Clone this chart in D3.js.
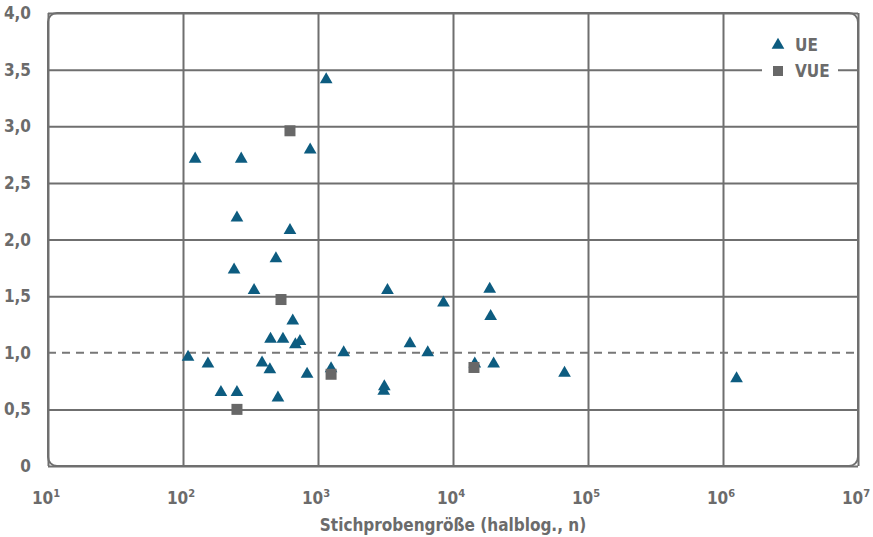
<!DOCTYPE html>
<html>
<head>
<meta charset="utf-8">
<script src="https://cdn.jsdelivr.net/npm/d3@7"></script>
<style>
  body { margin: 0; background: #fff; }
  text { font-family: "Liberation Sans Narrow", "DejaVu Sans Condensed", sans-serif; font-weight: bold; fill: #6b6b6b; }
</style>
</head>
<body>
<div id="chart"></div>
<script>
const margin = { top: 13, right: 15, bottom: 71, left: 48 };
const width = 873 - margin.left - margin.right;
const height = 537 - margin.top - margin.bottom;

// UE (triangles): sample size n and value
const ueN = [109, 123, 270, 1150, 875, 251, 620, 239, 488, 336, 650, 445, 550, 735, 680,
  153, 385, 440, 191, 251, 505, 830, 1550, 1250, 3100, 3070, 3270, 4800, 6500, 8500,
  14500, 18700, 19000, 20000, 67000, 1260000];
const ueVal = [0.97, 2.72, 2.72, 3.42, 2.80, 2.20, 2.09, 1.74, 1.84, 1.56, 1.29, 1.13, 1.13, 1.11, 1.08,
  0.91, 0.92, 0.86, 0.66, 0.66, 0.61, 0.82, 1.01, 0.87, 0.71, 0.67, 1.56, 1.09, 1.01, 1.45,
  0.91, 1.57, 1.33, 0.91, 0.83, 0.78];

// VUE (squares)
const vueN = [620, 532, 1250, 251, 14300];
const vueVal = [2.96, 1.47, 0.81, 0.50, 0.87];

const xTicks = [1, 2, 3, 4, 5, 6, 7];
const yTicks = [0, 0.5, 1, 1.5, 2, 2.5, 3, 3.5, 4];
const refLine = 1.0;

const seriesNames = ["UE", "VUE"];
const blue = "#0d5c80";
const grey = "#686868";
const lineCol = "#6f6f6f";

const ue = ueN.map((n, i) => ({ n: n, v: ueVal[i] }));
const vue = vueN.map((n, i) => ({ n: n, v: vueVal[i] }));

const svg = d3.select("#chart").append("svg")
  .attr("width", 873).attr("height", 537);
const chart = svg.append("g")
  .attr("transform", "translate(" + margin.left + "," + margin.top + ")");

const x = d3.scaleLog().domain([1e1, 1e7]).range([0, width]);
const y = d3.scaleLinear().domain([0, 4]).range([height, 0]);

// grid lines (no solid line at the reference value)
chart.append("g")
  .call(d3.axisLeft(y).tickValues(yTicks.filter(d => d !== refLine)).tickSize(-width).tickFormat(""))
  .call(g => g.select(".domain").remove())
  .call(g => g.selectAll("line").attr("stroke", lineCol).attr("stroke-width", 2));

chart.append("g")
  .call(d3.axisBottom(x).tickValues(xTicks.map(e => Math.pow(10, e))).tickSize(height).tickFormat(""))
  .call(g => g.select(".domain").remove())
  .call(g => g.selectAll("line").attr("stroke", lineCol).attr("stroke-width", 2));

// dashed reference line
chart.append("line")
  .attr("x1", 0).attr("x2", width)
  .attr("y1", y(refLine)).attr("y2", y(refLine))
  .attr("stroke", "#777").attr("stroke-width", 2)
  .attr("stroke-dasharray", "8,6");

// frame with rounded corners
chart.append("rect")
  .attr("x", 0).attr("y", 0)
  .attr("width", width).attr("height", height)
  .attr("rx", 9).attr("ry", 9)
  .attr("fill", "none").attr("stroke", lineCol).attr("stroke-width", 2);

// y labels
chart.append("g")
  .selectAll("text")
  .data(yTicks)
  .enter()
  .append("text")
  .attr("x", -17)
  .attr("y", d => y(d) + 6)
  .attr("text-anchor", "end")
  .style("font-size", "17px")
  .text(d => d === 0 ? "0" : d3.format(".1f")(d).replace(".", ","));

// x labels with superscript
const xl = chart.append("g")
  .selectAll("text")
  .data(xTicks)
  .enter()
  .append("text")
  .attr("x", d => x(Math.pow(10, d)) - 2)
  .attr("y", height + 38)
  .attr("text-anchor", "middle")
  .style("font-size", "17px");
xl.append("tspan").text("10");
xl.append("tspan").attr("dy", -7).style("font-size", "11px").text(d => d);

// axis title
chart.append("text")
  .attr("x", width / 2)
  .attr("y", height + 65)
  .attr("text-anchor", "middle")
  .style("font-size", "17px")
  .text("Stichprobengröße (halblog., n)");

const tri = d3.symbol().type(d3.symbolTriangle).size(70);

chart.append("g")
  .selectAll("path")
  .data(ue)
  .enter()
  .append("path")
  .attr("d", tri)
  .attr("transform", d => "translate(" + x(d.n) + "," + (y(d.v) + 1) + ")")
  .attr("fill", blue);

chart.append("g")
  .selectAll("rect")
  .data(vue)
  .enter()
  .append("rect")
  .attr("x", d => x(d.n) - 5.5)
  .attr("y", d => y(d.v) - 5.5)
  .attr("width", 11).attr("height", 11)
  .attr("fill", grey);

// legend
const legend = chart.append("g").attr("transform", "translate(" + (762 - margin.left) + "," + (30 - margin.top) + ")");
legend.append("rect").attr("x", 0).attr("y", 0).attr("width", 76).attr("height", 56).attr("fill", "#fff");
legend.append("path").attr("d", tri).attr("transform", "translate(16,15)").attr("fill", blue);
legend.append("rect").attr("x", 11).attr("y", 36).attr("width", 10).attr("height", 10).attr("fill", grey);
legend.selectAll("text.lg")
  .data(seriesNames)
  .enter()
  .append("text")
  .attr("class", "lg")
  .attr("x", 33)
  .attr("y", (d, i) => 21 + i * 26)
  .style("font-size", "17px")
  .text(d => d);
</script>
</body>
</html>
